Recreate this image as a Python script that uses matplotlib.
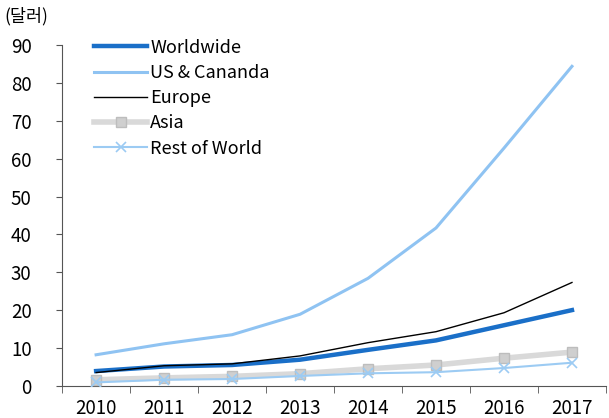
import numpy as np
import matplotlib.pyplot as plt

plt.rcParams['font.family'] = ['Noto Sans CJK KR', 'DejaVu Sans']

years = ["2010", "2011", "2012", "2013", "2014", "2015", "2016", "2017"]
worldwide = [3.9, 5.1, 5.5, 6.9, 9.5, 12.0, 16.0, 20.0]
us_canada = [8.2, 11.1, 13.5, 18.9, 28.4, 41.7, 62.8, 84.4]
europe = [3.5, 5.3, 5.8, 7.9, 11.4, 14.3, 19.3, 27.3]
asia = [1.6, 2.1, 2.5, 3.2, 4.5, 5.5, 7.3, 8.9]
rest_world = [0.9, 1.6, 1.8, 2.6, 3.3, 3.6, 4.7, 6.1]

fig = plt.figure(figsize=(6.09, 4.18), dpi=100)
ax = fig.add_axes([0.102, 0.077, 0.893, 0.815])

x = np.arange(len(years))
ax.plot(x, worldwide, color="#1a6fc8", lw=3.2, label="Worldwide", zorder=5)
ax.plot(x, us_canada, color="#8fc3f2", lw=2.2, label="US & Cananda", zorder=4)
ax.plot(x, europe, color="black", lw=1.0, label="Europe", zorder=6)
ax.plot(x, asia, color="#d9d9d9", lw=4, marker="s", ms=7, mfc="#cfcfcf",
        mec="#bdbdbd", mew=1, label="Asia", zorder=3)
ax.plot(x, rest_world, color="#9ccbf3", lw=1.5, marker="x", ms=6.5, mew=1.2,
        label="Rest of World", zorder=7)

ax.set_xlim(-0.5, 7.5)
ax.set_ylim(0, 90)
ax.set_yticks(range(0, 91, 10))
ax.set_xticks(x)
ax.set_xticklabels(years)
ax.set_xticks(np.arange(-0.5, 8, 1), minor=True)
ax.tick_params(axis="x", which="major", length=0, labelsize=13.5, pad=9)
ax.tick_params(axis="x", which="minor", length=5, direction="out", color="#555555")
ax.tick_params(axis="y", length=4, direction="out", labelsize=13.5, pad=18, color="#555555")

ax.spines["top"].set_visible(False)
ax.spines["right"].set_visible(False)
ax.spines["left"].set_color("#555555")
ax.spines["bottom"].set_color("#555555")

fig.text(0.008, 0.962, "(달러)", fontsize=12.5, ha="left", va="center")

ax.legend(loc="upper left", bbox_to_anchor=(0.046, 1.04), frameon=False,
          fontsize=13, handlelength=2.9, handletextpad=0.2, labelspacing=0.4,
          borderaxespad=0)

fig.savefig("out.png", dpi=100)
